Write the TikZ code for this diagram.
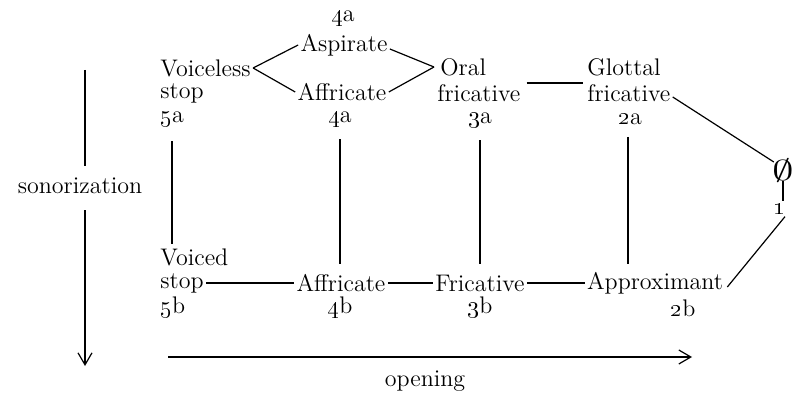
\documentclass[tikz,border=0pt]{standalone}
\usetikzlibrary{arrows.meta}
\newcommand{\osn}[1]{\oldstylenums{#1}}
\begin{document}
\begin{tikzpicture}[x=0.5pt,y=-0.5pt,
  lbl/.style={inner sep=0pt,font=\fontsize{12}{13}\selectfont},
  con/.style={draw,line width=0.6pt},
  axis/.style={draw,line width=0.6pt,-{Straight Barb[length=6pt,width=7pt]}}]
\useasboundingbox (0,0) rectangle (798,395);
% top row
\node[lbl] (n4t) at (343,18) {\osn{4}a};
\node[lbl] (asp) at (344,45) {Aspirate};
\node[lbl,anchor=west] (vl) at (160,68) {Voiceless};
\node[lbl,anchor=west] (stopA) at (160,93) {stop};
\node[lbl,anchor=west] (n5a) at (160,119) {\osn{5}a};
\node[lbl] (affA) at (342,92) {Affricate};
\node[lbl] (n4a) at (340,119) {\osn{4}a};
\node[lbl,anchor=west] (oral) at (440,67) {Oral};
\node[lbl,anchor=west] (fricA) at (437,93) {fricative};
\node[lbl] (n3a) at (480,120) {\osn{3}a};
\node[lbl,anchor=west] (glot) at (587,67) {Glottal};
\node[lbl,anchor=west] (fricG) at (587,93) {fricative};
\node[lbl] (n2a) at (630,119) {\osn{2}a};
\node[lbl,font=\fontsize{15}{16}\selectfont] (empty) at (783,171) {\scalebox{1.5}[1]{$\emptyset$}};
\node[lbl] (one) at (779,209) {\osn{1}};
% bottom row
\node[lbl,anchor=west] (voiced) at (160,257) {Voiced};
\node[lbl,anchor=west] (stopB) at (160,283) {stop};
\node[lbl,anchor=west] (n5b) at (160,308) {\osn{5}b};
\node[lbl] (affB) at (341,283) {Affricate};
\node[lbl] (n4b) at (340,308) {\osn{4}b};
\node[lbl] (fric) at (480,283) {Fricative};
\node[lbl] (n3b) at (480,308) {\osn{3}b};
\node[lbl] (appr) at (655,283) {Approximant};
\node[lbl] (n2b) at (683,308) {\osn{2}b};
% axis labels
\node[lbl] (son) at (80,186) {sonorization};
\node[lbl] (open) at (425,381) {opening};
\coordinate (sonTop) at (85,70);
\coordinate (sonBot) at (85,366);
\coordinate (opL) at (168,357);
\coordinate (opR) at (692,357);
% connectors top
\draw[con] ([xshift=1pt]vl.east) -- ([xshift=-1pt]asp.west);
\draw[con] ([xshift=1pt]vl.east) -- ([xshift=-1pt]affA.west);
\draw[con] ([xshift=1pt,yshift=-2pt]asp.east) -- ([xshift=-3pt]oral.west);
\draw[con] ([xshift=1pt]affA.east) -- ([xshift=-3pt]oral.west);
\draw[con] ([xshift=3pt,yshift=0.5pt]fricA.north east) -- ([xshift=-2pt,yshift=0.5pt]fricG.north west);
\draw[con] ([xshift=1pt,yshift=-2pt]fricG.east) -- ([xshift=1pt,yshift=-1.5pt]empty.north west);
\draw[con] ([yshift=1pt]empty.south) -- ([xshift=2pt,yshift=1pt]one.north);
\draw[con] ([xshift=3pt,yshift=-1pt]one.south) -- ([xshift=2pt,yshift=-2pt]appr.east);
% verticals
\draw[con] ([yshift=-7pt]n5a.south -| 172,0) -- ([yshift=2pt]voiced.north -| 172,0);
\draw[con] ([yshift=-6pt]n4a.south) -- ([yshift=5pt]n4a.south |- affB.north);
\draw[con] ([yshift=-6pt]n3a.south) -- ([yshift=5pt]n3a.south |- fric.north);
\draw[con] ([yshift=-6pt]n2a.south -| 628,0) -- ([yshift=4pt]appr.north -| 628,0);
% bottom connectors
\draw[con] ([xshift=1pt]stopB.east) -- ([xshift=-1pt]affB.west);
\draw[con] ([xshift=1pt]affB.east) -- ([xshift=-1pt]fric.west);
\draw[con] ([xshift=1pt]fric.east) -- ([xshift=-1pt]appr.west);
% axes
\draw[con] (sonTop) -- ([yshift=6pt]son.north -| sonTop);
\draw[axis] ([yshift=-8pt]son.south -| sonTop) -- (sonBot);
\draw[axis] (opL) -- (opR);
\end{tikzpicture}
\end{document}
